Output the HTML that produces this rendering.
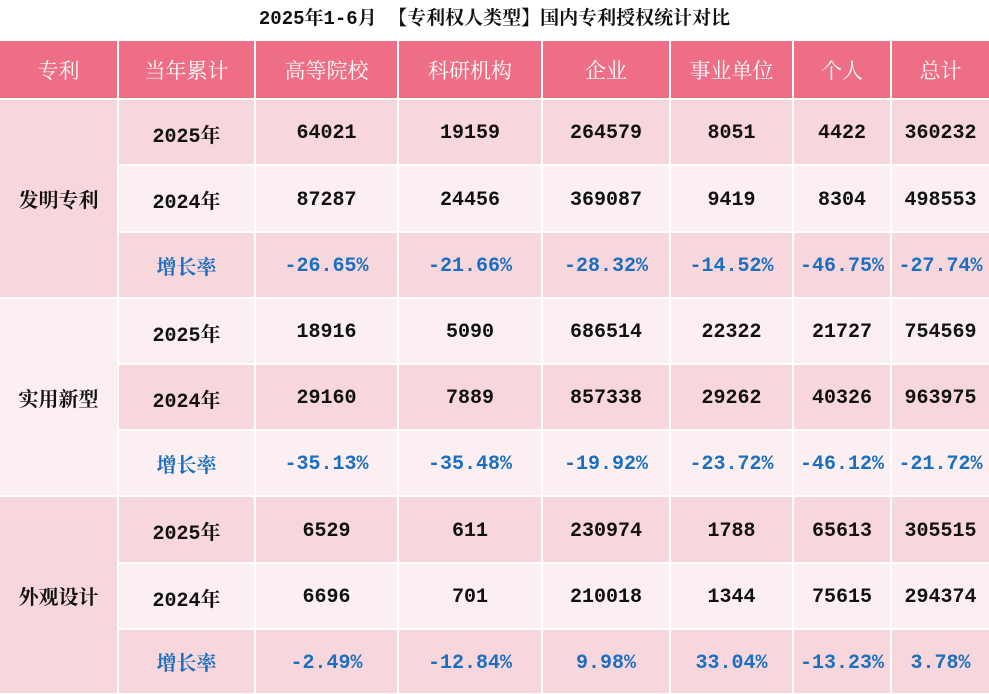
<!DOCTYPE html>
<html><head><meta charset="utf-8">
<style>
body{margin:0;width:989px;height:694px;background:#fff;overflow:hidden;font-family:"Liberation Serif","Noto Serif CJK SC",serif;}
#title{position:absolute;left:0;top:0;width:989px;height:40px;line-height:38px;text-align:center;font-size:19px;font-weight:bold;color:#111;font-family:"Liberation Mono","Noto Serif CJK SC",serif;}
.c{position:absolute;box-sizing:border-box;display:flex;align-items:center;justify-content:center;font-size:20px;font-weight:bold;color:#111;font-family:"Liberation Mono","Noto Serif CJK SC",monospace;padding-top:3px;}
.h{background:#ee6e85;color:#fff;font-weight:normal;font-size:21px;font-family:"Noto Serif CJK SC",serif;padding-top:0;}
.p{background:#f8d7dc;}
.l{background:#fbeff1;}
.g{color:#1a6fc0;}
.cat{font-weight:bold;font-size:20px;font-family:"Noto Serif CJK SC",serif;padding-top:0;}
.yr{font-size:20px;}
</style></head><body>
<div id="title">2025年1-6月 【专利权人类型】国内专利授权统计对比</div>
<div id="t"></div>
<script>
const colX=[0,118,255,398,542,670,793,891,989];
const rowY=[40,99,165,232,298,364,430,496,563,629,694];
const headers=["专利","当年累计","高等院校","科研机构","企业","事业单位","个人","总计"];
const cats=["发明专利","实用新型","外观设计"];
const v2025=[[64021,19159,264579,8051,4422,360232],[18916,5090,686514,22322,21727,754569],[6529,611,230974,1788,65613,305515]];
const v2024=[[87287,24456,369087,9419,8304,498553],[29160,7889,857338,29262,40326,963975],[6696,701,210018,1344,75615,294374]];
const growth=[["-26.65%","-21.66%","-28.32%","-14.52%","-46.75%","-27.74%"],["-35.13%","-35.48%","-19.92%","-23.72%","-46.12%","-21.72%"],["-2.49%","-12.84%","9.98%","33.04%","-13.23%","3.78%"]];
const t=document.getElementById('t');
function cell(x0,x1,y0,y1,cls,text,name){
  const d=document.createElement('div');
  d.className='c '+cls;
  d.style.left=(colX[x0]+(x0>0?1:0))+'px';
  d.style.width=(colX[x1]-colX[x0]-(x0>0?1:0)-(x1<8?1:0))+'px';
  d.style.top=(rowY[y0]+1)+'px';
  d.style.height=(rowY[y1]-rowY[y0]-2)+'px';
  d.textContent=text;
  
  
  t.appendChild(d);
}
headers.forEach((h,i)=>cell(i,i+1,0,1,'h',h,'header-'+i));
for(let k=0;k<3;k++){
  const odd=k%2===1;
  const a=odd?'l':'p', b=odd?'p':'l';
  const r=1+k*3;
  cell(0,1,r,r+3,a+' cat',cats[k],'category-'+k);
  cell(1,2,r,r+1,a+' yr','2025年','year-2025-label');
  cell(1,2,r+1,r+2,b+' yr','2024年','year-2024-label');
  cell(1,2,r+2,r+3,a+' g cat','增长率','growth-label');
  for(let j=0;j<6;j++){
    cell(j+2,j+3,r,r+1,a,String(v2025[k][j]),'value-2025');
    cell(j+2,j+3,r+1,r+2,b,String(v2024[k][j]),'value-2024');
    cell(j+2,j+3,r+2,r+3,a+' g',growth[k][j],'growth-rate');
  }
}
</script>
</body></html>
